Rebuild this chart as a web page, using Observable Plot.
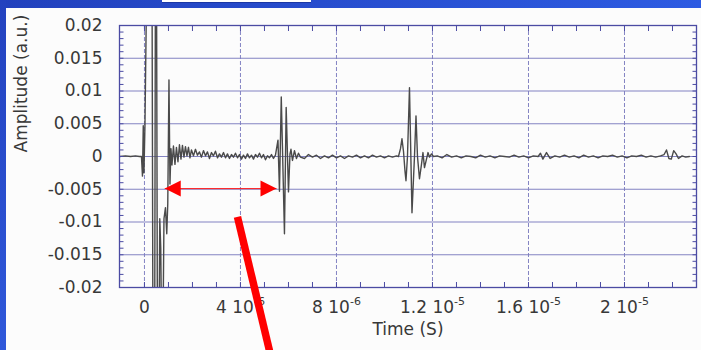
<!DOCTYPE html>
<html>
<head>
<meta charset="utf-8">
<script src="https://cdn.jsdelivr.net/npm/d3@7"></script>
<script src="https://cdn.jsdelivr.net/npm/@observablehq/plot@0.6"></script>
<style>
html,body{margin:0;padding:0;}
body{width:701px;height:350px;overflow:hidden;position:relative;background:linear-gradient(90deg,#2241bd,#2d5be2);}
#leftbar{position:absolute;left:0;top:0;width:6px;height:350px;background:linear-gradient(180deg,#2342bf,#2f58da);}
#panel{position:absolute;left:6px;top:8px;right:0;bottom:0;background:#fcfcfc;}
#tab{position:absolute;left:162px;top:0;width:149px;height:2px;background:#ffffff;border-bottom:1px solid #1b37a5;}
#chart{position:absolute;left:0;top:0;}
</style>
</head>
<body>
<div id="leftbar"></div>
<div id="panel"></div>
<div id="tab"></div>
<div id="chart"></div>
<script>
// ---- data ----
const signalTimeUs = [
  -1.04, -0.79, -0.58, -0.375, -0.21, -0.125, -0.083, -0.05, -0.021, 0.021,
  0.104, 0.313, 0.354, 0.425, 0.458, 0.5, 0.542, 0.604, 0.638, 0.679,
  0.721, 0.763, 0.813, 0.875, 0.929, 0.971, 1.021, 1.063, 1.104, 1.146,
  1.208, 1.271, 1.333, 1.396, 1.458, 1.521, 1.583, 1.646, 1.708, 1.771,
  1.833, 1.896, 1.958, 2.042, 2.125, 2.208, 2.292, 2.375, 2.458, 2.542,
  2.625, 2.708, 2.792, 2.875, 2.958, 3.042, 3.125, 3.208, 3.292, 3.375,
  3.458, 3.542, 3.625, 3.708, 3.792, 3.875, 3.958, 4.042, 4.125, 4.208,
  4.292, 4.375, 4.458, 4.542, 4.625, 4.708, 4.792, 4.875, 4.958, 5.042,
  5.125, 5.208, 5.292, 5.375, 5.458, 5.563, 5.625, 5.7, 5.833, 5.904,
  6.0, 6.063, 6.104, 6.167, 6.25, 6.333, 6.417, 6.5, 6.667, 6.833,
  7.0, 7.167, 7.333, 7.5, 7.667, 7.833, 8.0, 8.167, 8.333, 8.5,
  8.667, 8.833, 9.0, 9.167, 9.333, 9.5, 9.667, 9.833, 10.0, 10.167,
  10.333, 10.5, 10.583, 10.667, 10.729, 10.792, 10.854, 10.896, 10.958, 11.042,
  11.146, 11.25, 11.313, 11.375, 11.458, 11.542, 11.604, 11.667, 11.75, 11.813,
  11.875, 11.958, 12.042, 12.2, 12.4, 12.6, 12.8, 13.0, 13.2, 13.4,
  13.6, 13.8, 14.0, 14.2, 14.4, 14.6, 14.8, 15.0, 15.2, 15.4,
  15.6, 15.8, 16.0, 16.2, 16.4, 16.5, 16.6, 16.75, 16.9, 17.1,
  17.3, 17.5, 17.7, 17.9, 18.1, 18.3, 18.5, 18.7, 18.9, 19.1,
  19.3, 19.5, 19.7, 19.9, 20.1, 20.3, 20.5, 20.7, 20.9, 21.1,
  21.3, 21.5, 21.65, 21.75, 21.85, 21.95, 22.05, 22.15, 22.25, 22.4,
  22.55, 22.7
];
const signalAmplitude = [
  0, 0.0001, 0, 0.0001, 0, 0, -0.003, 0.0047, -0.0025, 0.0048,
  0.03, 0.03, -0.03, -0.03, 0.03, 0.03, -0.03, -0.03, -0.0095, -0.014,
  -0.03, -0.03, -0.0095, -0.0078, -0.0118, -0.0072, 0.0117, -0.0042, 0.0012, -0.0013,
  0.0016, -0.0012, 0.0014, -0.0008, 0.0018, -0.0004, 0.0017, -0.0001, 0.0015, 0.0001,
  0.0014, -0.0002, 0.0010, 0.0001, 0.0011, 0.0002, 0.0007, -0.0001, 0.0009, 0.0001,
  0.0007, -0.0003, 0.0006, 0.0001, 0.0008, -0.0002, 0.0004, -0.0001, 0.0006, -0.0002,
  0.0004, -0.0003, 0.0003, -0.0001, 0.0005, -0.0002, 0.0003, -0.0004, 0.0002, -0.0003,
  0.0004, -0.0002, 0.0002, -0.0004, 0.0003, -0.0001, 0.0005, -0.0002, 0.0003, -0.0005,
  0.0001, -0.0002, 0.0003, -0.0003, 0.0002, 0.0025, -0.0053, 0.0091, -0.0118, 0.0075,
  -0.0054, 0.0004, 0.0011, -0.0006, 0.0009, -0.0003, 0.0005, -0.0001, -0.0003, 0.0003,
  -0.0001, 0.0002, -0.0003, 0.0001, -0.0002, 0.0002, -0.0002, 0.0001, -0.0003, 0.0001,
  -0.0001, 0.0002, -0.0002, 0.0001, -0.0002, 0.0002, -0.0001, 0.0001, -0.0002, 0.0001,
  -0.0001, 0.0001, 0.0, 0.0012, 0.0027, 0.0008, -0.0022, -0.0037, 0.0, 0.0105,
  -0.0086, 0.0, 0.0062, 0.0, -0.0034, -0.0012, 0.0006, -0.0017, -0.0004, 0.0006,
  -0.0001, 0.0004, 0.0, 0.0001, -0.0002, 0.0003, -0.0001, 0.0001, -0.0002, 0.0001,
  0.0, -0.0002, 0.0002, -0.0001, 0.0001, -0.0002, 0.0001, 0.0, -0.0001, 0.0002,
  -0.0001, 0.0001, -0.0002, 0.0001, 0.0, 0.0005, -0.0004, 0.0006, -0.0003, 0.0001,
  -0.0001, 0.0002, -0.0001, 0.0001, -0.0002, 0.0002, -0.0001, 0.0001, -0.0002, 0.0001,
  0.0, 0.0002, -0.0001, 0.0001, -0.0002, 0.0001, 0.0, 0.0002, -0.0001, 0.0001,
  -0.0001, 0.0001, 0.0003, 0.0010, -0.0003, -0.0004, 0.0009, 0.0004, -0.0003, 0.0001,
  -0.0001, 0.0
];
const yTicks = [0.02, 0.015, 0.01, 0.005, 0, -0.005, -0.01, -0.015, -0.02];
const yTickLabels = ["0.02", "0.015", "0.01", "0.005", "0", "-0.005", "-0.01", "-0.015", "-0.02"];
const xTicks = [0, 4e-6, 8e-6, 1.2e-5, 1.6e-5, 2e-5];
const xTickMantissa = ["0", "4", "8", "1.2", "1.6", "2"];
const xTickExponent = ["", "-6", "-6", "-5", "-5", "-5"];
const xTitle = "Time (S)";
const yTitle = "Amplitude (a.u.)";
// annotation: double arrow between echoes, and pointer line
const arrowTimes = [0.846e-6, 5.5e-6];
const arrowAmplitude = -0.0049;
const pointerTimes = [3.875e-6, 5.31e-6];
const pointerAmplitudes = [-0.0092, -0.0312];

// ---- build tables ----
const signal = signalTimeUs.map((t, i) => ({time: t * 1e-6, amp: signalAmplitude[i]}));
const yMinor = d3.range(-20, 21).map(i => i / 1000);
const xMinor = d3.range(0, 24).map(i => i * 1e-6);
const arrowLine = [{x1: arrowTimes[0], x2: arrowTimes[1], y: arrowAmplitude}];
const heads = [
  {x: arrowTimes[0], y: arrowAmplitude, dir: "left"},
  {x: arrowTimes[1], y: arrowAmplitude, dir: "right"}
];
const pointer = [{x1: pointerTimes[0], y1: pointerAmplitudes[0], x2: pointerTimes[1], y2: pointerAmplitudes[1]}];

const headLeft = {draw(ctx) { ctx.moveTo(0, 0); ctx.lineTo(16, -8); ctx.lineTo(16, 8); ctx.closePath(); }};
const headRight = {draw(ctx) { ctx.moveTo(0, 0); ctx.lineTo(-16, -8); ctx.lineTo(-16, 8); ctx.closePath(); }};

const navy = "#4b4ba3";
const gridColor = "#7d7dc0";
const textColor = "#383838";

const chart = Plot.plot({
  width: 701,
  height: 350,
  marginLeft: 119,
  marginRight: 5,
  marginTop: 25,
  marginBottom: 63,
  style: {background: "none", fontFamily: "'DejaVu Sans', sans-serif", fontSize: "17px", overflow: "hidden"},
  x: {domain: [-1.04e-6, 2.3e-5], label: null},
  y: {domain: [-0.02, 0.02], label: null},
  marks: [
    Plot.gridY({ticks: yTicks, stroke: gridColor, strokeOpacity: 0.95, strokeWidth: 1}),
    Plot.gridX({ticks: xTicks, stroke: gridColor, strokeOpacity: 0.95, strokeWidth: 1, strokeDasharray: "4,2"}),
    Plot.line(signal, {x: "time", y: "amp", stroke: "#4a4a4a", strokeWidth: 1.4, clip: true}),
    Plot.axisY({ticks: yMinor, anchor: "left", tickSize: -4.5, fill: "none", stroke: navy}),
    Plot.axisY({ticks: yMinor, anchor: "right", tickSize: -4.5, fill: "none", stroke: navy}),
    Plot.axisX({ticks: xMinor, anchor: "bottom", tickSize: -5, fill: "none", stroke: navy}),
    Plot.axisX({ticks: xMinor, anchor: "top", tickSize: -5, fill: "none", stroke: navy}),
    Plot.axisY({ticks: yTicks, anchor: "left", tickSize: 0, tickPadding: 17, fill: textColor,
      tickFormat: d => yTickLabels[yTicks.indexOf(d)]}),
    Plot.axisX({ticks: xTicks, anchor: "bottom", tickSize: 0, tickPadding: 13, fill: textColor,
      tickFormat: d => { const i = xTicks.indexOf(d); return xTickExponent[i] ? xTickMantissa[i] + " 10^" + xTickExponent[i] : xTickMantissa[i]; }}),
    Plot.frame({stroke: navy, strokeWidth: 1.3}),
    Plot.text([xTitle], {text: d => d, frameAnchor: "bottom", dy: 47, fill: textColor, fontSize: 17}),
    Plot.text([yTitle], {text: d => d, frameAnchor: "left", dx: -98, dy: -4, rotate: -90, fill: textColor, fontSize: 17}),
    Plot.link(arrowLine, {x1: "x1", x2: "x2", y1: "y", y2: "y", stroke: "#ff1a1a", strokeWidth: 1}),
    Plot.dot(heads.filter(d => d.dir === "left"), {x: "x", y: "y", symbol: headLeft, fill: "#ff0000", stroke: "none", r: 8}),
    Plot.dot(heads.filter(d => d.dir === "right"), {x: "x", y: "y", symbol: headRight, fill: "#ff0000", stroke: "none", r: 8}),
    Plot.link(pointer, {x1: "x1", y1: "y1", x2: "x2", y2: "y2", stroke: "#ff0000", strokeWidth: 7.5, strokeLinecap: "butt"})
  ]
});

// superscript exponents on x tick labels
d3.select(chart).selectAll('g[aria-label="x-axis tick label"] text').each(function() {
  const s = this.textContent;
  if (s.includes("^")) {
    const [base, exp] = s.split("^");
    this.textContent = base;
    d3.select(this).append("tspan").attr("dy", "-8").attr("font-size", "11px").text(exp);
  }
});

document.getElementById("chart").appendChild(chart);
</script>
</body>
</html>
